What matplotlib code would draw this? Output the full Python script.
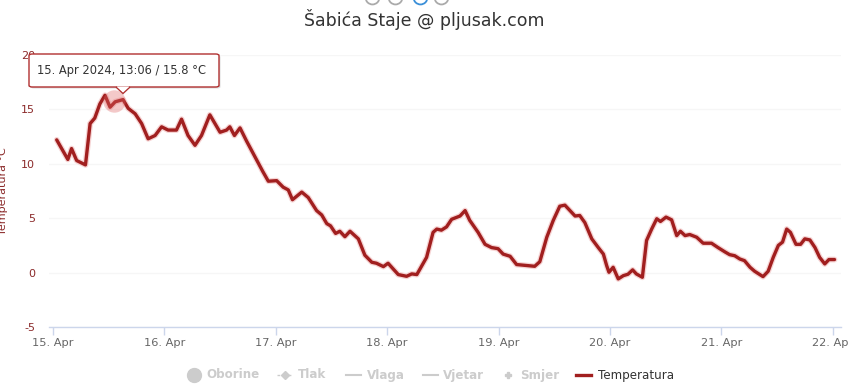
import matplotlib
matplotlib.use("Agg")
import matplotlib.pyplot as plt
from matplotlib.patches import FancyBboxPatch, Polygon, Circle
from matplotlib.lines import Line2D

# ---- data (hours since 15 Apr 2024 00:00, temperature °C) ----
hours = [0.8, 3.2, 4.0, 5.1, 7.0, 8.0, 9.0, 10.1, 11.2, 12.3, 13.4, 15.1, 16.2, 17.7,
         19.1, 20.5, 22.0, 23.4, 24.8, 26.6, 27.7, 29.1, 30.6, 32.0, 33.8, 36.0, 37.4,
         38.1, 39.1, 40.3, 41.7, 43.2, 44.2, 45.2, 46.4, 48.2, 49.6, 50.7, 51.6, 53.6,
         55.0, 56.8, 57.9, 59.0, 59.8, 60.9, 61.8, 62.9, 64.0, 65.8, 67.2, 68.7, 69.7,
         71.2, 72.2, 73.3, 74.4, 76.2, 77.3, 78.4, 79.1, 80.5, 81.9, 82.7, 83.7, 84.8,
         85.9, 87.7, 88.8, 89.8, 91.6, 93.1, 94.5, 95.9, 97.0, 98.5, 99.9, 102.1, 103.8,
         104.9, 106.4, 107.8, 109.2, 110.3, 111.4, 112.5, 113.5, 114.6, 116.1, 117.5,
         118.6, 119.3, 119.8, 120.7, 121.8, 122.9, 123.9, 124.9, 125.7, 127.0, 127.9,
         129.0, 130.1, 130.9, 132.1, 133.3, 134.4, 135.2, 136.2, 137.2, 138.7, 140.1,
         141.9, 143.3, 144.8, 145.8, 146.9, 148.0, 149.0, 150.2, 151.2, 153.0, 154.1,
         155.2, 156.3, 157.2, 158.1, 158.9, 160.1, 161.1, 162.0, 163.1, 164.2, 165.2,
         166.3, 167.2, 168.4]
temps = [12.2, 10.4, 11.4, 10.3, 9.9, 13.7, 14.2, 15.5, 16.3, 15.2, 15.7, 15.9, 15.1, 14.6,
         13.7, 12.3, 12.6, 13.4, 13.1, 13.1, 14.1, 12.6, 11.7, 12.6, 14.5, 12.9, 13.1,
         13.4, 12.6, 13.3, 12.1, 10.9, 10.1, 9.3, 8.4, 8.45, 7.85, 7.6, 6.7, 7.4,
         6.9, 5.7, 5.3, 4.5, 4.3, 3.6, 3.8, 3.3, 3.8, 3.1, 1.6, 0.95, 0.86,
         0.55, 0.86, 0.34, -0.18, -0.34, -0.12, -0.18, 0.34, 1.4, 3.7, 4.0, 3.9, 4.2,
         4.9, 5.2, 5.7, 4.8, 3.7, 2.6, 2.3, 2.2, 1.7, 1.5, 0.74, 0.65, 0.58,
         1.0, 3.25, 4.8, 6.1, 6.2, 5.7, 5.2, 5.25, 4.6, 3.1, 2.3,
         1.7, 0.65, 0.03, 0.49, -0.58, -0.28, -0.15, 0.25, -0.12, -0.43, 2.95,
         4.0, 4.95, 4.7, 5.1, 4.85, 3.4, 3.8, 3.4, 3.5, 3.25, 2.7,
         2.7, 2.3, 1.9, 1.65, 1.55, 1.25, 1.1, 0.49, 0.12, -0.37, 0.12,
         1.4, 2.5, 2.8, 4.0, 3.7, 2.6, 2.6, 3.1, 3.0, 2.3, 1.4,
         0.8, 1.2, 1.2]

day_ticks = [0, 24, 48, 72, 96, 120, 144, 168]
day_labels = ["15. Apr", "16. Apr", "17. Apr", "18. Apr", "19. Apr", "20. Apr", "21. Apr", "22. Apr"]
y_ticks = [-5, 0, 5, 10, 15, 20]

hover_hour = 13.1
hover_temp = 15.8
tooltip_text = "15. Apr 2024, 13:06 / 15.8 °C"
title = "Šabića Staje @ pljusak.com"
legend_items = ["Oborine", "Tlak", "Vlaga", "Vjetar", "Smjer", "Temperatura"]

# ---- figure ----
W, H = 848, 384
fig = plt.figure(figsize=(W / 100, H / 100), dpi=100)
fig.patch.set_facecolor("white")
ax = fig.add_axes([49 / W, 1 - 327 / H, (841 - 49) / W, (327 - 55) / H])

RED = "#a11f1f"
ax.plot(hours, temps, color="#f6d4d4", lw=4.2, solid_capstyle="round", solid_joinstyle="round", zorder=2)
ax.plot(hours, temps, color=RED, lw=2.4, solid_capstyle="round", solid_joinstyle="round", zorder=3)

ax.set_xlim(-0.86, 169.8)
ax.set_ylim(-5, 20)
ax.set_yticks(y_ticks)
ax.set_yticklabels([str(v) for v in y_ticks], color="#8b2a2a", fontsize=8)
ax.set_xticks(day_ticks)
ax.set_xticklabels(day_labels, color="#666666", fontsize=8.2)
ax.tick_params(axis="y", length=0, pad=10)
ax.tick_params(axis="x", length=6, width=1, color="#ccd6eb", pad=2, direction="out")
for s in ["top", "right", "left"]:
    ax.spines[s].set_visible(False)
ax.spines["bottom"].set_color("#ccd6eb")
ax.spines["bottom"].set_linewidth(1)
ax.grid(axis="y", color="#f6f6f6", lw=1)
ax.set_axisbelow(True)

fig.text(3 / W, 0.5 * (1 - 55 / H + 1 - 327 / H), "Temperatura °C", rotation=90,
         ha="center", va="center", color="#8b2a2a", fontsize=8)

# title
fig.text(0.5, 1 - 19 / H, title, ha="center", va="center", fontsize=12.5, color="#333333")

# cut-off icons at very top
for xi, col in [(372, "#aaaaaa"), (395, "#aaaaaa"), (420, "#3a8fd8"), (441, "#aaaaaa")]:
    fig.lines.append(Line2D([xi / W], [1 + 3 / H], transform=fig.transFigure, marker="o", ms=10,
                            mfc="white", mec=col, mew=1.3, lw=0, clip_on=False))

# hover halo
ax.scatter([hover_hour], [hover_temp], s=260, color="#e06666", alpha=0.35, zorder=4, linewidths=0)

# tooltip
bx0, by0, bx1, by1 = 29 / W, 1 - 87 / H, 219 / W, 1 - 54 / H
shadow = FancyBboxPatch((bx0 + 1.5 / W, by0 - 1.5 / H), bx1 - bx0, by1 - by0,
                        boxstyle="round,pad=0,rounding_size=0.004", transform=fig.transFigure,
                        facecolor="#dddddd", edgecolor="none", zorder=9)
box = FancyBboxPatch((bx0, by0), bx1 - bx0, by1 - by0,
                     boxstyle="round,pad=0,rounding_size=0.004", transform=fig.transFigure,
                     facecolor="#ffffff", edgecolor="#b03030", lw=1.0, zorder=10)
fig.patches.extend([shadow, box])
ptr = Polygon([(116 / W, 1 - 87 / H), (123 / W, 1 - 93.5 / H), (130 / W, 1 - 87 / H)],
              closed=False, transform=fig.transFigure, facecolor="white",
              edgecolor="#b03030", lw=1.0, zorder=11)
fig.patches.append(ptr)
fig.patches.append(Polygon([(116.8 / W, 1 - 86.5 / H), (123 / W, 1 - 92.3 / H), (129.2 / W, 1 - 86.5 / H)],
                           closed=True, transform=fig.transFigure, facecolor="white",
                           edgecolor="none", zorder=12))
fig.text(37 / W, 1 - 70.5 / H, tooltip_text, ha="left", va="center", fontsize=8.3,
         color="#333333", zorder=13)

# legend
LG = "#cccccc"
ly = 1 - 375 / H
fs = 8.6
# Oborine
fig.lines.append(Line2D([194 / W], [ly], transform=fig.transFigure, color=LG, marker="o", ms=10, lw=0))
fig.text(206 / W, ly, legend_items[0], ha="left", va="center", fontsize=fs, color=LG, fontweight="bold")
# Tlak
fig.lines.append(Line2D([277 / W, 293 / W], [ly, ly], transform=fig.transFigure, color=LG, lw=1, ls=(0, (2, 2))))
fig.lines.append(Line2D([285 / W], [ly], transform=fig.transFigure, color=LG, marker="D", ms=4, lw=0))
fig.text(298 / W, ly, legend_items[1], ha="left", va="center", fontsize=fs, color=LG, fontweight="bold")
# Vlaga
fig.lines.append(Line2D([346 / W, 361 / W], [ly, ly], transform=fig.transFigure, color=LG, lw=1.5))
fig.text(367 / W, ly, legend_items[2], ha="left", va="center", fontsize=fs, color=LG, fontweight="bold")
# Vjetar
fig.lines.append(Line2D([423 / W, 438 / W], [ly, ly], transform=fig.transFigure, color=LG, lw=1.5))
fig.text(443 / W, ly, legend_items[3], ha="left", va="center", fontsize=fs, color=LG, fontweight="bold")
# Smjer
fig.lines.append(Line2D([508 / W], [ly], transform=fig.transFigure, color=LG, marker="P", ms=5, lw=0))
fig.text(520 / W, ly, legend_items[4], ha="left", va="center", fontsize=fs, color=LG, fontweight="bold")
# Temperatura
fig.lines.append(Line2D([576 / W, 591 / W], [ly, ly], transform=fig.transFigure, color=RED, lw=2.4))
fig.text(598 / W, ly, legend_items[5], ha="left", va="center", fontsize=fs, color="#333333")

fig.savefig("out.png", dpi=100, facecolor="white")
